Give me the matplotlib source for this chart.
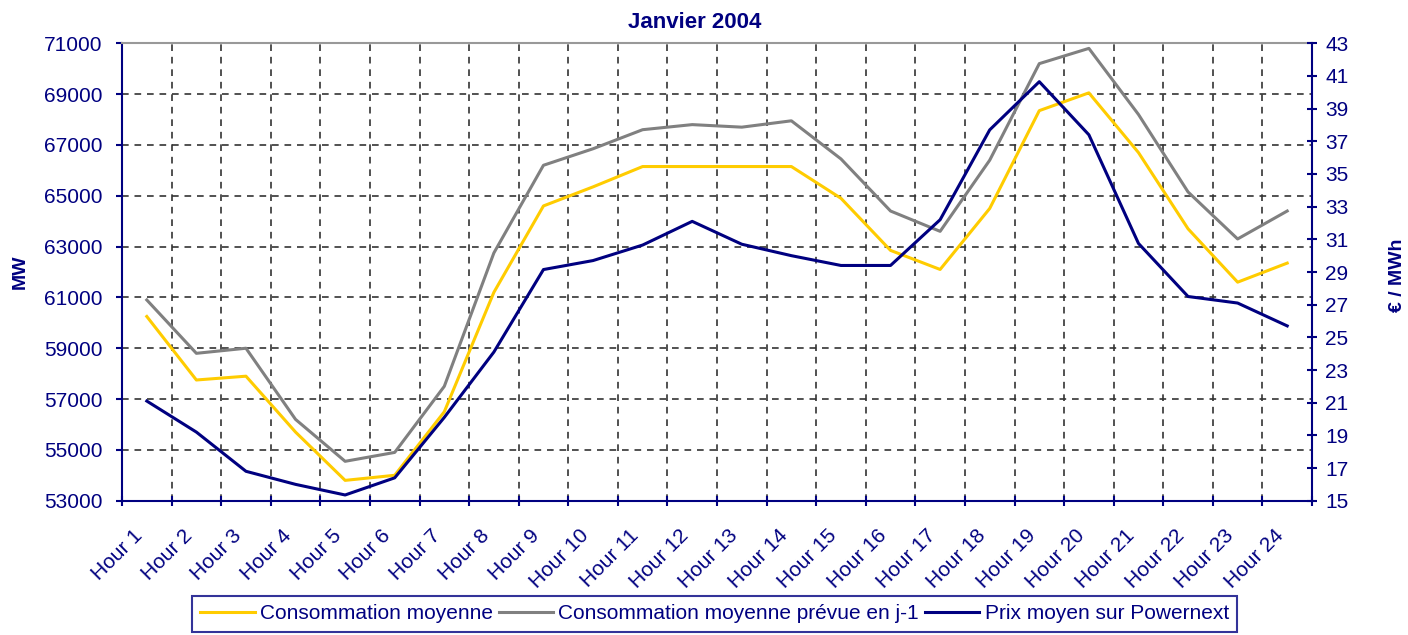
import numpy as np
import matplotlib
matplotlib.use("Agg")
import matplotlib.pyplot as plt
from matplotlib.transforms import ScaledTranslation

plt.rcParams['font.family'] = ['Liberation Sans', 'DejaVu Sans']

NAVY = '#000080'

hours = ["Hour %d" % i for i in range(1, 25)]

# MW, left axis
conso = [60250, 57750, 57900, 55700, 53800, 54000, 56500, 61200, 64600, 65350,
         66150, 66150, 66150, 66150, 64900, 62850, 62100, 64500, 68350, 69050,
         66700, 63700, 61600, 62350]
conso_prev = [60900, 58800, 59000, 56200, 54550, 54900, 57500, 62750, 66200, 66850,
              67600, 67800, 67700, 67950, 66450, 64400, 63600, 66400, 70200, 70800,
              68200, 65150, 63300, 64400]
# EUR/MWh, right axis
prix = [21.1, 19.2, 16.8, 16.0, 15.35, 16.4, 20.1, 24.1, 29.15, 29.7,
        30.65, 32.1, 30.7, 30.0, 29.4, 29.4, 32.2, 37.7, 40.65, 37.4,
        30.75, 27.5, 27.1, 25.7]

x = np.arange(1, len(hours) + 1)

fig = plt.figure(figsize=(14.08, 6.35), dpi=100)
ax = fig.add_axes([122/1408, 1 - 500.7/635, (1312-122)/1408, (500.7-43.3)/635])
ax2 = ax.twinx()

l1, = ax.plot(x, conso, color='#FFCC00', lw=2.2, label='Consommation moyenne', zorder=3)
l2, = ax.plot(x, conso_prev, color='#808080', lw=2.2, label='Consommation moyenne prévue en j-1', zorder=3)
l3, = ax2.plot(x, prix, color=NAVY, lw=2.2, label='Prix moyen sur Powernext', zorder=3)

ax.set_xlim(0.5, 24.5)
ax.set_ylim(53000, 71000)
ax2.set_ylim(15, 43)
ax.set_yticks(np.arange(53000, 71001, 2000))
ax2.set_yticks(np.arange(15, 44, 2))

# gridlines at category boundaries and left ticks
bounds = np.arange(0.5, 25, 1)
for b in bounds[1:-1]:
    ax.axvline(b, color='#333333', lw=1.2, ls=(0, (4, 3.5)), zorder=1)
for v in np.arange(55000, 71000, 2000):
    ax.axhline(v, color='#333333', lw=1.2, ls=(0, (4, 3.5)), zorder=1)

ax.set_xticks(bounds)
ax.set_xticklabels([])
ax.set_xticks(x, minor=True)
ax.set_xticklabels(hours, minor=True, rotation=45, ha='right', va='center',
                   rotation_mode='anchor', fontsize=15, color=NAVY)
ax.tick_params(axis='x', which='minor', length=0, pad=23)
ax.tick_params(axis='x', which='major', direction='inout', length=7, width=1.5, color=NAVY)
off = ScaledTranslation(-7/100, 0, fig.dpi_scale_trans)
for lab in ax.get_xticklabels(minor=True):
    lab.set_transform(lab.get_transform() + off)

ax.tick_params(axis='y', direction='out', length=4.5, width=1.5, color=NAVY,
               labelsize=15, labelcolor=NAVY, pad=9.5)
ax2.tick_params(axis='y', direction='inout', length=7, width=1.5, color=NAVY,
                labelsize=15, labelcolor=NAVY, pad=6)

for s in ['left', 'bottom']:
    ax.spines[s].set_color(NAVY)
    ax.spines[s].set_linewidth(1.5)
ax.spines['right'].set_visible(False)
ax.spines['top'].set_color('#999999')
ax.spines['top'].set_linewidth(1.5)
for s in ['left', 'bottom', 'top']:
    ax2.spines[s].set_visible(False)
ax2.spines['right'].set_color(NAVY)
ax2.spines['right'].set_linewidth(1.5)

fig.text(695/1408, 1 - 22/635, 'Janvier 2004', ha='center', va='center',
         fontsize=16, fontweight='bold', color=NAVY)
fig.text(20/1408, 1 - 272/635, 'MW', rotation=90, ha='center', va='center',
         fontsize=14, fontweight='bold', color=NAVY)
fig.text(1398/1408, 1 - 275/635, '€ / MWh', rotation=90, ha='center', va='center',
         fontsize=14, fontweight='bold', color=NAVY)

leg = fig.legend(handles=[l1, l2, l3], loc='upper left',
                 bbox_to_anchor=(192/1408, 1 - 596/635), bbox_transform=fig.transFigure,
                 ncol=3, fontsize=15, frameon=True, fancybox=False, borderaxespad=0,
                 handlelength=2.6, handletextpad=0.25, columnspacing=0.3,
                 borderpad=0.4)
leg.get_frame().set_edgecolor(NAVY)
leg.get_frame().set_linewidth(1.5)
for t in leg.get_texts():
    t.set_color(NAVY)

fig.savefig('out.png', dpi=100)
